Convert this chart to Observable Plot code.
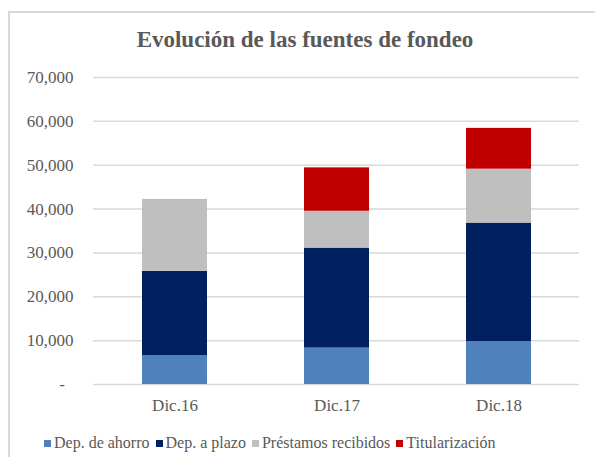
<!DOCTYPE html>
<html>
<head>
<meta charset="utf-8">
<script src="https://cdn.jsdelivr.net/npm/d3@7"></script>
<script src="https://cdn.jsdelivr.net/npm/@observablehq/plot@0.6"></script>
<style>
  body { margin: 0; background: #fff; }
  #wrap { position: relative; width: 595px; height: 457px; overflow: hidden; font-family: "Liberation Serif", "Times New Roman", serif; }
  #frame { position: absolute; left: 8px; top: 11px; width: 700px; height: 600px; border-left: 2px solid #d9d9d9; border-top: 2px solid #d9d9d9; }
  #title { position: absolute; left: 0; width: 610px; top: 27px; text-align: center; font-size: 23px; font-weight: bold; color: #595959; }
  #chart { position: absolute; left: 0; top: 0; }
  #chart svg, #chart svg text { font-family: "Liberation Serif", "Times New Roman", serif !important; }
  #legend { position: absolute; left: 44px; top: 434px; width: 560px; }
  #legend, #legend * { font-family: "Liberation Serif", "Times New Roman", serif !important; font-size: 16px !important; color: #595959; }
  #legend div { margin: 0 !important; min-height: 0 !important; }
  #legend span { margin-right: 6px !important; }
  #legend span > svg { margin-right: 3px !important; }
</style>
</head>
<body>
<div id="wrap">
  <div id="frame"></div>
  <div id="title">Evolución de las fuentes de fondeo</div>
  <div id="chart"></div>
  <div id="legend"></div>
</div>
<script>
const categorias = ["Dic.16", "Dic.17", "Dic.18"];
const series = ["Dep. de ahorro", "Dep. a plazo", "Préstamos recibidos", "Titularización"];
const colores = ["#4f81bd", "#002060", "#bfbfbf", "#c00000"];
const depAhorro = [6600, 8300, 9800];
const depPlazo = [19200, 22800, 27000];
const prestamos = [16400, 8400, 12300];
const titularizacion = [0, 9900, 9300];
const yTicks = [0, 10000, 20000, 30000, 40000, 50000, 60000, 70000];

const valores = [depAhorro, depPlazo, prestamos, titularizacion];
const data = [];
series.forEach((s, i) => categorias.forEach((c, j) => data.push({cat: c, serie: s, valor: valores[i][j]})));

const fmt = d => d === 0 ? "-\u00a0\u00a0" : d3.format(",")(d);

const plot = Plot.plot({
  width: 595,
  height: 414,
  marginLeft: 93,
  marginRight: 16,
  marginTop: 77,
  marginBottom: 30,
  style: {fontSize: "17px", color: "#595959", background: "transparent"},
  x: {domain: categorias, paddingInner: 0.6, paddingOuter: 0.3, label: null},
  y: {domain: [0, 70000], label: null},
  color: {domain: series, range: colores},
  marks: [
    Plot.ruleY(yTicks, {stroke: "#d9d9d9", strokeWidth: 1.5}),
    Plot.barY(data, {x: "cat", y: "valor", fill: "serie", z: "serie", order: series}),
    Plot.axisY(yTicks, {tickSize: 0, tickPadding: 20, tickFormat: fmt, fill: "#595959", fontSize: 17, label: null}),
    Plot.axisX({tickSize: 0, tickPadding: 14, fill: "#595959", fontSize: 17, label: null})
  ]
});
document.getElementById("chart").appendChild(plot);

const legend = plot.legend("color", {swatchSize: 7, swatchWidth: 7, swatchHeight: 7});
document.getElementById("legend").appendChild(legend);
</script>
</body>
</html>
